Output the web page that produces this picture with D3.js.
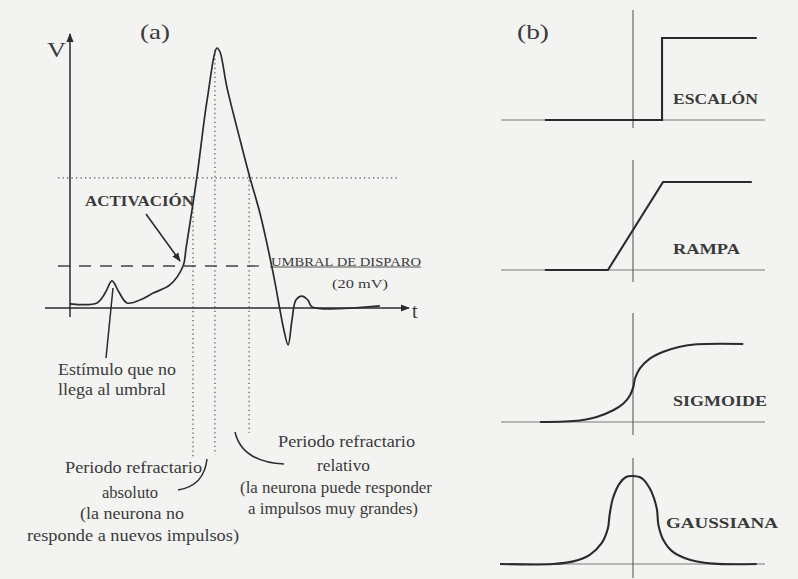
<!DOCTYPE html>
<html>
<head>
<meta charset="utf-8">
<script src="https://cdn.jsdelivr.net/npm/d3@7/dist/d3.min.js"></script>
<style>
  html, body { margin: 0; padding: 0; background: #f3f3f1; }
  svg { display: block; }
  text { font-family: "Liberation Serif", "DejaVu Serif", serif; fill: #3a3a3a; }
</style>
</head>
<body>
<svg id="chart" width="798" height="579"></svg>
<script>
// ---------- DATA ----------
// Panel (a): action potential, time (ms, arbitrary) and voltage (mV above rest)
const apTime = [0, 0.9, 1.17, 1.4, 1.63, 1.9, 2.33, 2.77, 3.33, 3.77, 3.87, 4.23, 4.57, 4.9, 5.0, 5.23, 5.67, 6.0, 6.33, 6.77, 7.0, 7.13, 7.27, 7.4, 7.53, 7.73, 7.93, 8.07, 10.33];
const apVolt = [2, 2.4, 7.1, 12.9, 7.6, 2.4, 3.8, 7.1, 11, 20, 28.6, 62.4, 99, 123.8, 121.9, 105.2, 80, 61.9, 45.2, 16.7, -1, -10.5, -17.6, -5.7, 3.8, 5.7, 3.8, 0.5, 1];
const threshold = 20;            // mV, "UMBRAL DE DISPARO"
const refLevel = 62;             // mV, dotted horizontal reference
const periodTimes = [4.1, 4.83, 5.97];
const periodTop = [50, 123, 63];
const periodBottom = [-71, -70, -59.5];

// Panel (b): activation functions
const stepX = [-2.67, 0.88, 0.88, 3.75];
const stepY = [0, 0, 1, 1];
const rampX = [-2.67, -0.76, 0.91, 3.6];
const rampY = [0, 0, 1, 1];
const sigX = [-2.82, -1.61, -1.10, -0.60, -0.29, -0.09, 0.01, 0.06, 0.21, 0.52, 0.92, 1.42, 1.93, 3.34];
const sigY = [0, 0.02, 0.064, 0.15, 0.236, 0.343, 0.45, 0.558, 0.687, 0.815, 0.90, 0.966, 0.996, 1.0];
const gaussX = [-4.03, -2.42, -1.81, -1.31, -0.95, -0.76, -0.71, -0.61, -0.41, -0.21, 0, 0.26, 0.51, 0.72, 0.77, 0.92, 1.22, 1.72, 2.43, 3.75];
const gaussY = [0, 0, 0.03, 0.105, 0.237, 0.406, 0.556, 0.744, 0.914, 0.989, 1.0, 0.977, 0.857, 0.632, 0.444, 0.274, 0.135, 0.049, 0.004, 0];

const funcNames = ["ESCALÓN", "RAMPA", "SIGMOIDE", "GAUSSIANA"];

// ---------- DRAWING ----------
const svg = d3.select("#chart");
const ink = "#2b2b2b";

svg.append("defs").append("marker")
  .attr("id", "arrow").attr("viewBox", "0 0 10 10").attr("refX", 9).attr("refY", 5)
  .attr("markerWidth", 9).attr("markerHeight", 9).attr("markerUnits", "userSpaceOnUse")
  .attr("orient", "auto")
  .append("path").attr("d", "M0,1 L10,5 L0,9 Z").attr("fill", ink);

// ---- Panel (a) ----
const xA = d3.scaleLinear().domain([0, 11]).range([70, 400]);
const yA = d3.scaleLinear().domain([0, 20]).range([308, 266]);
const gA = svg.append("g");

// dotted reference horizontal
gA.append("line")
  .attr("x1", xA(-0.4)).attr("x2", xA(11))
  .attr("y1", yA(refLevel)).attr("y2", yA(refLevel))
  .attr("stroke", "#555").attr("stroke-width", 1.3).attr("stroke-dasharray", "1.3,3.2");

// vertical dotted period lines
gA.selectAll("line.period").data(periodTimes).join("line")
  .attr("class", "period")
  .attr("x1", d => xA(d)).attr("x2", d => xA(d))
  .attr("y1", (d, i) => yA(periodTop[i])).attr("y2", (d, i) => yA(periodBottom[i]))
  .attr("stroke", "#555").attr("stroke-width", 1.3).attr("stroke-dasharray", "1.3,3.2");

// threshold dashed line
gA.append("line")
  .attr("x1", xA(-0.4)).attr("x2", xA(6.6))
  .attr("y1", yA(threshold)).attr("y2", yA(threshold))
  .attr("stroke", "#444").attr("stroke-width", 1.3).attr("stroke-dasharray", "12,9");
gA.append("line")
  .attr("x1", xA(6.67)).attr("x2", xA(11.7))
  .attr("y1", yA(threshold) + 1).attr("y2", yA(threshold) + 1)
  .attr("stroke", "#555").attr("stroke-width", 1);

// axes
gA.append("line")
  .attr("x1", xA(0)).attr("x2", xA(0))
  .attr("y1", 317).attr("y2", 34)
  .attr("stroke", ink).attr("stroke-width", 1.5).attr("marker-end", "url(#arrow)");
gA.append("line")
  .attr("x1", 45).attr("x2", 409)
  .attr("y1", yA(0)).attr("y2", yA(0))
  .attr("stroke", ink).attr("stroke-width", 1.5).attr("marker-end", "url(#arrow)");

// action potential curve
const apData = apTime.map((t, i) => ({ t, v: apVolt[i] }));
gA.append("path").datum(apData)
  .attr("d", d3.line().x(d => xA(d.t)).y(d => yA(d.v)).curve(d3.curveCatmullRom.alpha(0.5)))
  .attr("fill", "none").attr("stroke", ink).attr("stroke-width", 1.7).attr("stroke-linejoin", "round");

// activation arrow
gA.append("line")
  .attr("x1", 146).attr("y1", 214).attr("x2", 180).attr("y2", 261)
  .attr("stroke", ink).attr("stroke-width", 1.6).attr("marker-end", "url(#arrow)");

// stimulus pointer line
gA.append("path").attr("d", "M113,288 L106,358")
  .attr("fill", "none").attr("stroke", ink).attr("stroke-width", 1.5);
// absolute refractory curve
gA.append("path").attr("d", "M207,459 Q204,486 178,490")
  .attr("fill", "none").attr("stroke", ink).attr("stroke-width", 1.5);
// relative refractory curve
gA.append("path").attr("d", "M235,432 Q242,462 284,464")
  .attr("fill", "none").attr("stroke", ink).attr("stroke-width", 1.5);

// texts panel (a)
function txt(g, s, x, y, size, opts = {}) {
  const t = g.append("text").attr("x", x).attr("y", y).attr("font-size", size).text(s);
  if (opts.anchor) t.attr("text-anchor", opts.anchor);
  if (opts.bold) t.attr("font-weight", "bold");
  if (opts.len) t.attr("textLength", opts.len).attr("lengthAdjust", "spacingAndGlyphs");
  return t;
}
txt(gA, "(a)", 140, 39, 22, { len: 30 });
txt(gA, "V", 47, 57, 20, { len: 19 });
txt(gA, "t", 412, 318, 20);
txt(gA, "ACTIVACIÓN", 85, 206, 14, { bold: true, len: 109 });
txt(gA, "UMBRAL DE DISPARO", 271, 266, 12, { len: 150 });
txt(gA, "(20 mV)", 332, 288, 13, { len: 56 });
txt(gA, "Estímulo que no", 58, 375, 16, { len: 118 });
txt(gA, "llega al umbral", 58, 395, 16, { len: 108 });

const absLines = [["Periodo refractario", 65, 473, 137], ["absoluto", 102, 498, 56], ["(la neurona no", 80, 519, 104], ["responde a nuevos impulsos)", 27, 541, 212]];
absLines.forEach(([s, x, y, w]) => txt(gA, s, x, y, 16, { len: w }));
const relLines = [["Periodo refractario", 278, 447, 137], ["relativo", 317, 471, 53], ["(la neurona puede responder", 240, 493, 192], ["a impulsos muy grandes)", 248, 514, 170]];
relLines.forEach(([s, x, y, w]) => txt(gA, s, x, y, 16, { len: w }));

// ---- Panel (b) ----
const xB = d3.scaleLinear().domain([-4, 4]).range([501, 765]);
const panels = [
  { xs: stepX, ys: stepY, base: 120, top: 38, axTop: 10, axBot: 128, curve: d3.curveLinear, lx: 673, ly: 104, lw: 85 },
  { xs: rampX, ys: rampY, base: 270, top: 182, axTop: 160, axBot: 282, curve: d3.curveLinear, lx: 673, ly: 254, lw: 67 },
  { xs: sigX, ys: sigY, base: 422, top: 344, axTop: 313, axBot: 435, curve: d3.curveCatmullRom.alpha(0.5), lx: 673, ly: 406, lw: 94 },
  { xs: gaussX, ys: gaussY, base: 564, top: 476, axTop: 458, axBot: 578, curve: d3.curveCatmullRom.alpha(0.5), lx: 666, ly: 528, lw: 112 }
];
const gB = svg.append("g");
txt(gB, "(b)", 517, 39, 22, { len: 32 });

panels.forEach((p, i) => {
  const y = d3.scaleLinear().domain([0, 1]).range([p.base, p.top]);
  const g = gB.append("g");
  g.append("line").attr("x1", xB(-4)).attr("x2", xB(4)).attr("y1", y(0)).attr("y2", y(0))
    .attr("stroke", "#7a7a7a").attr("stroke-width", 1.1);
  g.append("line").attr("x1", xB(0)).attr("x2", xB(0)).attr("y1", p.axTop).attr("y2", p.axBot)
    .attr("stroke", "#5a5a5a").attr("stroke-width", 1.1);
  const data = p.xs.map((x, j) => [x, p.ys[j]]);
  g.append("path").datum(data)
    .attr("d", d3.line().x(d => xB(d[0])).y(d => y(d[1])).curve(p.curve))
    .attr("fill", "none").attr("stroke", ink).attr("stroke-width", 2.1).attr("stroke-linejoin", "miter");
  txt(g, funcNames[i], p.lx, p.ly, 14, { bold: true, len: p.lw });
});
</script>
</body>
</html>
